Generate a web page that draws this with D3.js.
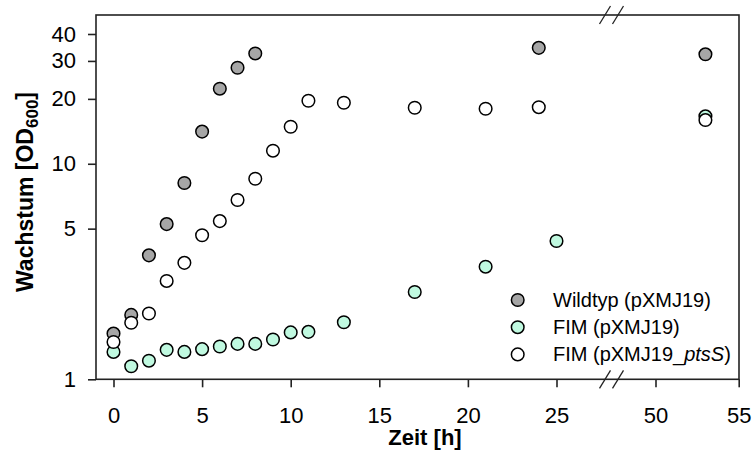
<!DOCTYPE html>
<html>
<head>
<meta charset="utf-8">
<script src="https://cdn.jsdelivr.net/npm/d3@7"></script>
<style>
  html, body { margin: 0; padding: 0; background: #fff; }
  svg { display: block; font-family: Arial, "Liberation Sans", sans-serif; }
</style>
</head>
<body>
<svg id="chart" width="752" height="461"></svg>
<script>
// ---- data ----
const wtTime  = [0, 1, 2, 3, 4, 5, 6, 7, 8, 24, 53];
const wtOD    = [1.63, 1.99, 3.76, 5.25, 8.14, 14.1, 22.3, 27.9, 32.5, 34.5, 32.2];
const fimTime = [0, 1, 2, 3, 4, 5, 6, 7, 8, 9, 10, 11, 13, 17, 21, 25, 53];
const fimOD   = [1.34, 1.15, 1.22, 1.37, 1.34, 1.38, 1.42, 1.46, 1.46, 1.53, 1.65, 1.66, 1.84, 2.54, 3.33, 4.38, 16.6];
const ptsTime = [0, 1, 2, 3, 4, 5, 6, 7, 8, 9, 10, 11, 13, 17, 21, 24, 53];
const ptsOD   = [1.49, 1.83, 2.02, 2.86, 3.47, 4.66, 5.42, 6.79, 8.52, 11.5, 14.85, 19.6, 19.2, 18.2, 18.0, 18.3, 15.95];
const seriesNames = ["Wildtyp (pXMJ19)", "FIM (pXMJ19)", "FIM (pXMJ19_ptsS)"];
const xTicksLeft  = [0, 5, 10, 15, 20, 25];
const xTicksRight = [50, 55];
const yTicks = [1, 5, 10, 20, 30, 40];

// ---- layout ----
const L = 96, R = 739, T = 15, B = 379.3;
const breakX = 611.5;
const svg = d3.select("#chart");

const x1 = d3.scaleLinear().domain([0, 25]).range([113.5, 556.5]);
const x2 = d3.scaleLinear().domain([50, 55]).range([655.5, 738.7]);
const xPos = t => (t < 35 ? x1(t) : x2(t));
const y = d3.scaleLog().domain([1, 49]).range([B, T]);

const fontTick = 22;
const fmt = d3.format("d");

// axes
const yAxis = d3.axisLeft(y).tickValues(yTicks).tickFormat(fmt)
  .tickSizeInner(8).tickSizeOuter(0).tickPadding(12);
const gy = svg.append("g").attr("transform", `translate(${L},0)`).call(yAxis);
gy.select(".domain").remove();

const xAxis1 = d3.axisBottom(x1).tickValues(xTicksLeft).tickFormat(fmt).tickSizeInner(8).tickSizeOuter(0).tickPadding(20);
const xAxis2 = d3.axisBottom(x2).tickValues(xTicksRight).tickFormat(fmt).tickSizeInner(8).tickSizeOuter(0).tickPadding(20);
const gx1 = svg.append("g").attr("transform", `translate(0,${B})`).call(xAxis1);
const gx2 = svg.append("g").attr("transform", `translate(0,${B})`).call(xAxis2);
[gx1, gx2].forEach(g => g.select(".domain").remove());

[gy, gx1, gx2].forEach(g => {
  g.selectAll("text").attr("font-size", fontTick).attr("fill", "#000")
    .attr("font-family", 'Arial, "Liberation Sans", sans-serif');
  g.selectAll("line").attr("stroke", "#222").attr("stroke-width", 1.6);
});

// frame
svg.append("rect").attr("x", L).attr("y", T).attr("width", R - L).attr("height", B - T)
  .attr("fill", "none").attr("stroke", "#222").attr("stroke-width", 1.6);

// break marks
[T, B].forEach(yy => {
  [breakX - 6.5, breakX + 6.5].forEach(cx => {
    svg.append("line")
      .attr("x1", cx - 5.5).attr("y1", yy + 9)
      .attr("x2", cx + 5.5).attr("y2", yy - 9)
      .attr("stroke", "#222").attr("stroke-width", 1.3);
  });
});

// points
const styles = [
  {fill: "#a6a6a6"},
  {fill: "#c0f9e0"},
  {fill: "#ffffff"}
];
const sets = [
  {t: wtTime, v: wtOD},
  {t: fimTime, v: fimOD},
  {t: ptsTime, v: ptsOD}
];
sets.forEach((s, i) => {
  svg.append("g").selectAll("circle")
    .data(s.t.map((t, k) => ({t, v: s.v[k]})))
    .join("circle")
    .attr("cx", d => xPos(d.t))
    .attr("cy", d => y(d.v))
    .attr("r", 6.3)
    .attr("fill", styles[i].fill)
    .attr("stroke", "#000").attr("stroke-width", 1.5);
});

// legend
const leg = svg.append("g");
seriesNames.forEach((name, i) => {
  const ly = 300 + i * 27.2;
  leg.append("circle").attr("cx", 517.7).attr("cy", ly).attr("r", 6.3)
    .attr("fill", styles[i].fill).attr("stroke", "#000").attr("stroke-width", 1.5);
  const t = leg.append("text").attr("x", 553).attr("y", ly).attr("dy", "0.35em")
    .attr("font-size", 20).attr("fill", "#000");
  if (i === 2) {
    t.append("tspan").text("FIM (pXMJ19_");
    t.append("tspan").attr("font-style", "italic").text("ptsS");
    t.append("tspan").text(")");
  } else {
    t.text(name);
  }
});

// axis titles
svg.append("text").attr("x", 425).attr("y", 445).attr("text-anchor", "middle")
  .attr("font-size", 22).attr("font-weight", "bold").text("Zeit [h]");

const yt = svg.append("text").attr("transform", "translate(33,192) rotate(-90)")
  .attr("text-anchor", "middle").attr("font-size", 23).attr("font-weight", "bold");
yt.append("tspan").text("Wachstum [OD");
yt.append("tspan").attr("font-size", 17).attr("dy", 5).text("600");
yt.append("tspan").attr("dy", -5).text("]");
</script>
</body>
</html>
